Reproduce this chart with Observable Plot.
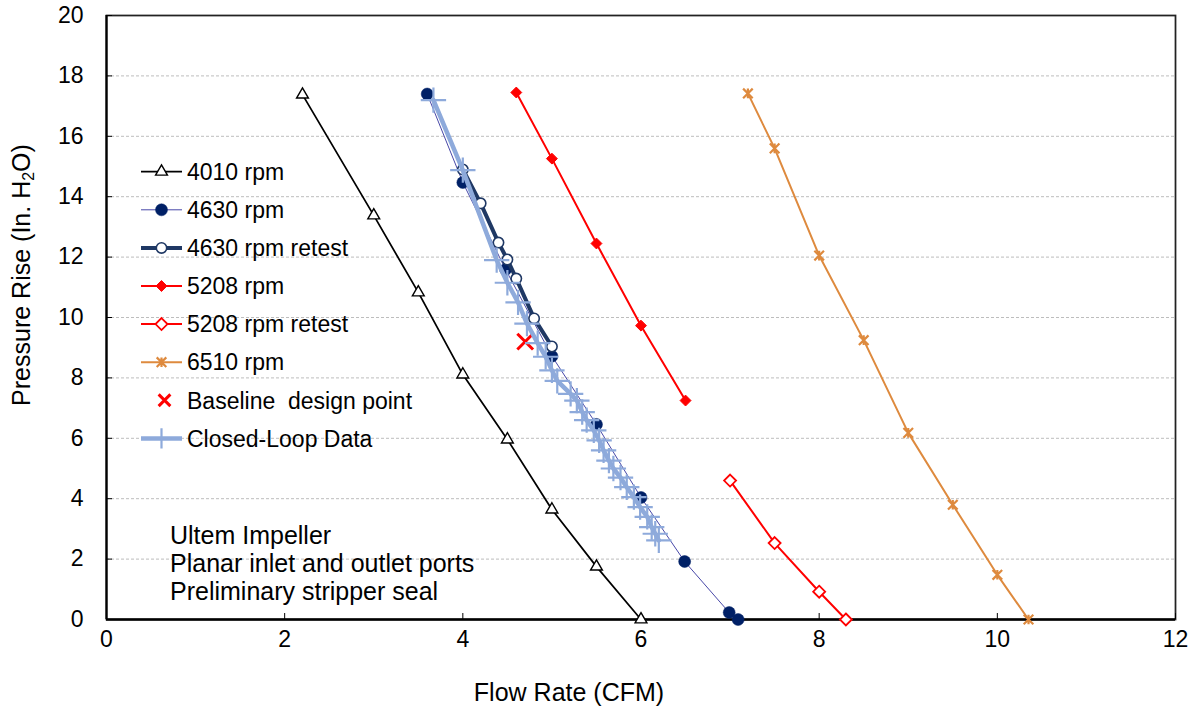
<!DOCTYPE html>
<html><head><meta charset="utf-8">
<script src="https://cdn.jsdelivr.net/npm/d3@7"></script>
<script src="https://cdn.jsdelivr.net/npm/@observablehq/plot@0.6"></script>
<style>
body{margin:0;background:#fff;}
#wrap{position:relative;width:1199px;height:710px;font-family:"Liberation Sans",Arial,sans-serif;color:#000;}
.ov{position:absolute;white-space:nowrap;line-height:1;}
</style></head><body><div id="wrap"></div><script>
// ---- tick labels ----
const xTicks = [0, 2, 4, 6, 8, 10, 12];
const yTicks = [0, 2, 4, 6, 8, 10, 12, 14, 16, 18, 20];
const gridY = [2, 4, 6, 8, 10, 12, 14, 16, 18];

// ---- series (Flow Rate CFM, Pressure Rise in. H2O) ----
const flow4010 = [2.2, 3.0, 3.5, 4.0, 4.5, 5.0, 5.5, 6.0];
const rise4010 = [17.38, 13.38, 10.83, 8.11, 5.96, 3.64, 1.75, 0];

const flow4630 = [3.6, 4.0, 4.48, 5.0, 5.5, 6.0, 6.49, 6.99, 7.09];
const rise4630 = [17.4, 14.47, 11.59, 8.72, 6.46, 4.04, 1.92, 0.23, 0];

const flow4630r = [4.0, 4.2, 4.4, 4.5, 4.6, 4.8, 5.0];
const rise4630r = [14.9, 13.78, 12.48, 11.92, 11.29, 9.97, 9.04];

const flow5208 = [4.6, 5.0, 5.5, 6.0, 6.5];
const rise5208 = [17.45, 15.26, 12.45, 9.73, 7.25];

const flow5208r = [7.0, 7.5, 8.0, 8.3];
const rise5208r = [4.6, 2.53, 0.92, 0];

const flow6510 = [7.2, 7.5, 8.0, 8.5, 9.0, 9.5, 10.0, 10.35];
const rise6510 = [17.42, 15.6, 12.05, 9.25, 6.18, 3.8, 1.48, 0];

const flowBase = [4.7];
const riseBase = [9.2];

const flowCL = [3.67, 4.0, 4.38, 4.5, 4.62, 4.72, 4.84, 4.93, 5.0, 5.06, 5.21, 5.28, 5.34, 5.39, 5.47, 5.53, 5.58, 5.64, 5.69, 5.77, 5.84, 5.92, 5.99, 6.07, 6.12, 6.16, 6.2];
const riseCL = [17.2, 14.88, 11.9, 11.15, 10.5, 9.8, 9.15, 8.7, 8.25, 7.9, 7.47, 7.25, 6.87, 6.6, 6.26, 5.93, 5.6, 5.26, 5.0, 4.7, 4.38, 4.05, 3.72, 3.4, 3.06, 2.84, 2.62];

const seriesNames = ["4010 rpm", "4630 rpm", "4630 rpm retest", "5208 rpm", "5208 rpm retest", "6510 rpm", "Baseline  design point", "Closed-Loop Data"];
const noteLines = ["Ultem Impeller", "Planar inlet and outlet ports", "Preliminary stripper seal"];

const xTitle = "Flow Rate (CFM)";

// ---- build rows ----
const rows = (xs, ys) => xs.map((x, i) => ({x, y: ys[i]}));
const s4010 = rows(flow4010, rise4010);
const s4630 = rows(flow4630, rise4630);
const s4630r = rows(flow4630r, rise4630r);
const s5208 = rows(flow5208, rise5208);
const s5208r = rows(flow5208r, rise5208r);
const s6510 = rows(flow6510, rise6510);
const sBase = rows(flowBase, riseBase);
const sCL = rows(flowCL, riseCL);

// Excel-style "star" marker: an X plus a vertical stroke
const starSymbol = {
  draw(context, size) {
    const r = Math.sqrt(size / Math.PI);
    context.moveTo(-r, -r); context.lineTo(r, r);
    context.moveTo(-r, r); context.lineTo(r, -r);
    context.moveTo(0, -r); context.lineTo(0, r);
  }
};

// ---- styles ----
const styles = [
  {line: {stroke: "#000", strokeWidth: 1.75}, dot: {symbol: "triangle", r: 4.4, fill: "#fff", stroke: "#000", strokeWidth: 1.4}},
  {line: {stroke: "#4848a8", strokeWidth: 1}, dot: {symbol: "circle", r: 6, fill: "#002066", stroke: "#002066", strokeWidth: 0.5}},
  {line: {stroke: "#1f3864", strokeWidth: 4}, dot: {symbol: "circle", r: 5.2, fill: "#fff", stroke: "#1f3864", strokeWidth: 1.6}},
  {line: {stroke: "#ff0000", strokeWidth: 2}, dot: {symbol: "diamond2", r: 4.9, fill: "#ff0000", stroke: "#ff0000", strokeWidth: 1}},
  {line: {stroke: "#ff0000", strokeWidth: 2}, dot: {symbol: "diamond2", r: 5.4, fill: "#fff", stroke: "#ff0000", strokeWidth: 1.8}},
  {line: {stroke: "#de8a3e", strokeWidth: 2}, dot: {symbol: starSymbol, r: 4.8, fill: "none", stroke: "#de8a3e", strokeWidth: 2.2}},
  {line: null, dot: {symbol: "times", r: 7.2, fill: "none", stroke: "#ff0000", strokeWidth: 3}},
  {line: {stroke: "#8eaadb", strokeWidth: 4.5}, dot: {symbol: "plus", r: 8.2, fill: "none", stroke: "#8eaadb", strokeWidth: 2.2}}
];
const data = [s4010, s4630, s4630r, s5208, s5208r, s6510, sBase, sCL];

const W = 1199, H = 710, mL = 106, mR = 24, mT = 15, mB = 91;
const plotW = W - mL - mR, plotH = H - mT - mB;
const FONT = '"Liberation Sans", Arial, sans-serif';

const seriesMarks = [];
data.forEach((d, i) => {
  const st = styles[i];
  if (st.line) seriesMarks.push(Plot.line(d, {x: "x", y: "y", ...st.line}));
  seriesMarks.push(Plot.dot(d, {x: "x", y: "y", ...st.dot}));
});

const chart = Plot.plot({
  width: W, height: H,
  marginLeft: mL, marginRight: mR, marginTop: mT, marginBottom: mB,
  style: {fontFamily: FONT, fontSize: "23px", color: "#000", background: "#fff", overflow: "visible"},
  x: {domain: [0, 12]},
  y: {domain: [0, 20]},
  marks: [
    Plot.ruleY(gridY, {y: d => d, stroke: "#bdbdbd", strokeDasharray: "3,2", strokeWidth: 1}),
    Plot.frame({stroke: "#222", strokeWidth: 1.75}),
    Plot.tickX(xTicks, {x: d => d, insetTop: plotH - 6, stroke: "#000", strokeWidth: 1}),
    Plot.tickY(yTicks, {y: d => d, insetRight: plotW - 6, stroke: "#000", strokeWidth: 1}),
    Plot.axisX(xTicks, {tickSize: 0, tickPadding: 11, label: null, fontSize: 23, fill: "#000"}),
    Plot.axisY(yTicks, {tickSize: 0, tickPadding: 23, label: null, fontSize: 23, fill: "#000"}),
    Plot.ruleX([0], {stroke: "#000", strokeWidth: 2.2}),
    Plot.ruleY([0], {stroke: "#000", strokeWidth: 2.4}),
    ...seriesMarks
  ]
});

const wrap = document.getElementById("wrap");
wrap.appendChild(chart);

// ---- axis titles ----
const xt = document.createElement("div");
xt.className = "ov";
xt.style.cssText = `left:569px;top:692px;transform:translate(-50%,-50%);font-size:25px;`;
xt.textContent = xTitle;
wrap.appendChild(xt);

const yt = document.createElement("div");
yt.className = "ov";
yt.style.cssText = `left:23px;top:275px;transform:translate(-50%,-50%) rotate(-90deg);font-size:25px;`;
yt.innerHTML = 'Pressure Rise (In. H<sub style="font-size:16px;vertical-align:-4px;">2</sub>O)';
wrap.appendChild(yt);

// ---- legend (overlay inside plot) ----
const legX = 141, legLen = 41, legTop = 171.7, legStep = 38.1;
const lg = d3.select(wrap).append("svg")
  .attr("width", W).attr("height", H)
  .style("position", "absolute").style("left", 0).style("top", 0)
  .style("pointer-events", "none").style("overflow", "visible");
const symMap = {triangle: d3.symbolTriangle, circle: d3.symbolCircle, diamond2: d3.symbolDiamond2, times: d3.symbolTimes, plus: d3.symbolPlus};
const legendScale = [1, 1, 1, 1, 1, 1, 0.75, 0.8];
seriesNames.forEach((name, i) => {
  const st = styles[i];
  const cy = legTop + i * legStep;
  const g = lg.append("g");
  if (st.line) {
    g.append("line").attr("x1", legX).attr("x2", legX + legLen).attr("y1", cy).attr("y2", cy)
      .attr("stroke", st.line.stroke).attr("stroke-width", st.line.strokeWidth);
  }
  const rr = st.dot.r * legendScale[i];
  const size = Math.PI * rr * rr;
  const sym = typeof st.dot.symbol === "string" ? symMap[st.dot.symbol] : st.dot.symbol;
  g.append("path").attr("d", d3.symbol(sym, size)())
    .attr("transform", `translate(${legX + legLen / 2 + (st.line ? 0 : 3)},${cy})`)
    .attr("fill", st.dot.fill).attr("stroke", st.dot.stroke).attr("stroke-width", st.dot.strokeWidth);
  g.append("text").attr("x", 187).attr("y", cy).attr("dy", "0.36em")
    .attr("font-family", FONT).attr("font-size", 23).attr("fill", "#000")
    .style("white-space", "pre").text(name);
});

// ---- note text ----
noteLines.forEach((t, i) => {
  lg.append("text").attr("x", 170).attr("y", 535 + i * 28.2).attr("dy", "0.36em")
    .attr("font-family", FONT).attr("font-size", 25).attr("fill", "#000").text(t);
});
</script></body></html>
